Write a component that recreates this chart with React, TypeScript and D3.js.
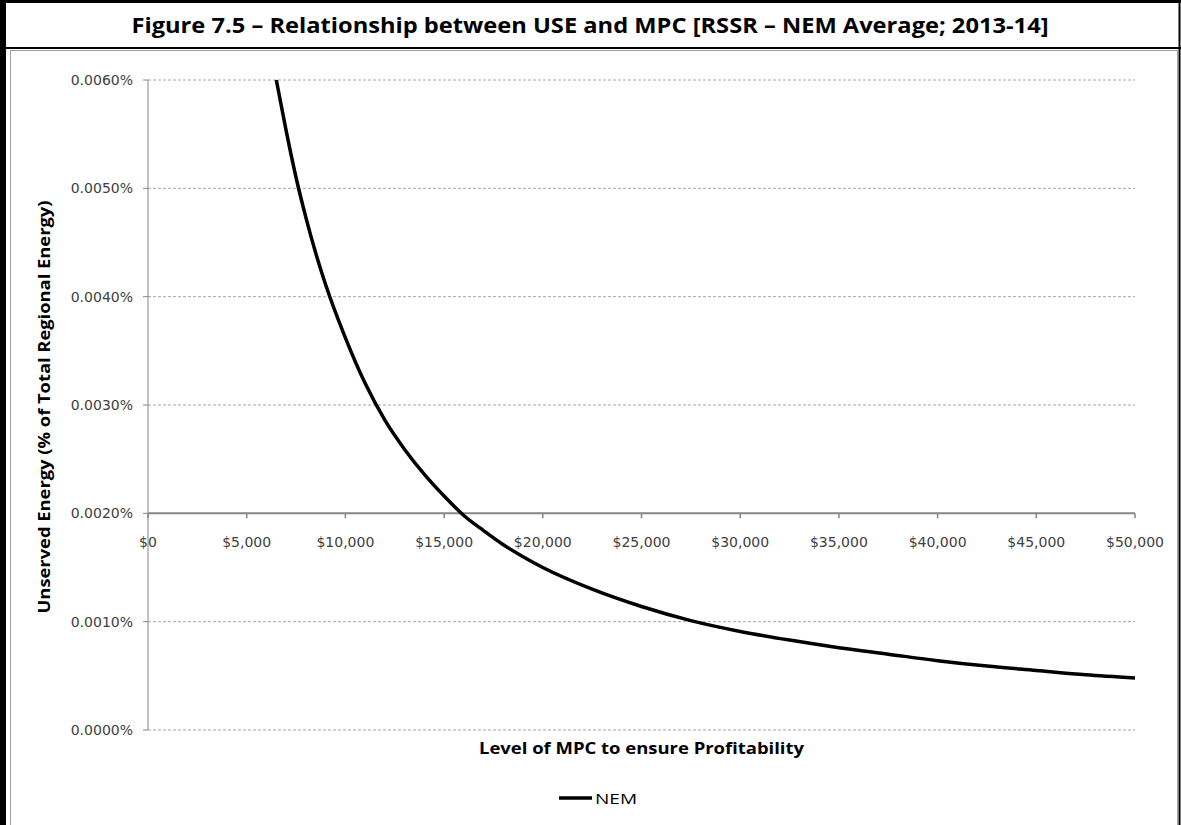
import React from 'react';
import * as d3 from 'd3';

// MPC level ($/MWh) and unserved energy (% of total regional energy)
const mpcLevels = [
    6500, 7000, 7500, 8000, 8500, 9000, 10000, 11000, 12000, 13000, 14000, 15000,
    16000, 17000, 18000, 19000, 20000, 22500, 25000, 27500, 30000, 32500, 35000,
    37500, 40000, 42500, 45000, 47500, 50000,
];
const nemUse = [
    0.0060, 0.00553, 0.0051, 0.00473, 0.0044, 0.00411, 0.00362, 0.0032, 0.00286, 0.00259, 0.00236, 0.00216,
    0.00198, 0.00184, 0.00171, 0.0016, 0.0015, 0.0013, 0.00114, 0.00101, 0.00091, 0.00083, 0.00076,
    0.0007, 0.00064, 0.00059, 0.00055, 0.00051, 0.00048,
];
const xTicks = [0, 5000, 10000, 15000, 20000, 25000, 30000, 35000, 40000, 45000, 50000];
const yTicks = [0, 0.001, 0.002, 0.003, 0.004, 0.005, 0.006];

const W = 1181;
const H = 825;
const left = 148;
const right = 1135;
const top = 80;
const bottom = 730;
const axisAt = 0.002; // x axis crosses here

const tickFont = '"DejaVu Sans", sans-serif';
const titleFont = '"Open Sans", sans-serif';

const App: React.FC = () => {
    const x = d3.scaleLinear().domain([0, 50000]).range([left, right]);
    const y = d3.scaleLinear().domain([0, 0.006]).range([bottom, top]);

    const points = mpcLevels.map((m, i) => [m, nemUse[i]] as [number, number]);
    const line = d3.line<[number, number]>()
        .x(d => x(d[0]))
        .y(d => y(d[1]))
        .curve(d3.curveMonotoneX);

    const fmtX = (v: number) => '$' + d3.format(',')(v);
    const fmtY = (v: number) => d3.format('.4f')(v) + '%';
    const yAxis = y(axisAt);

    return (
        <div style={{ position: 'fixed', left: 0, top: 0 }}>
            <svg width={W} height={H} style={{ display: 'block', background: '#fff' }}>
                {/* frame */}
                <rect x={1.5} y={1.5} width={W + 10} height={H + 10} fill="none" stroke="#000" strokeWidth={3} />
                <line x1={4.5} x2={4.5} y1={0} y2={H} stroke="#000" strokeWidth={3} />
                <line x1={0} x2={W} y1={48} y2={48} stroke="#000" strokeWidth={2} />
                <line x1={1179.5} x2={1179.5} y1={0} y2={H} stroke="#000" strokeWidth={2} />
                <rect x={10.5} y={50.5} width={1167} height={H} fill="none" stroke="#a0a0a0" strokeWidth={1} />

                <text x={590} y={33} textAnchor="middle" fontFamily={titleFont} fontWeight="bold"
                    fontSize={22} textLength={917} lengthAdjust="spacingAndGlyphs" fill="#000">
                    Figure 7.5 – Relationship between USE and MPC [RSSR – NEM Average; 2013-14]
                </text>

                {/* gridlines */}
                {yTicks.filter(t => t !== axisAt).map(t => (
                    <line key={'g' + t} x1={left} x2={right} y1={y(t)} y2={y(t)}
                        stroke="#a6a6a6" strokeWidth={1} strokeDasharray="3,2" />
                ))}

                {/* y axis */}
                <line x1={left} x2={left} y1={top} y2={bottom} stroke="#868686" strokeWidth={1} />
                {yTicks.map(t => (
                    <g key={'y' + t}>
                        <line x1={left - 5} x2={left} y1={y(t)} y2={y(t)} stroke="#868686" strokeWidth={1} />
                        <text x={133} y={y(t)} dy="0.35em" textAnchor="end" fontFamily={tickFont}
                            fontSize={14} fill="#404040">{fmtY(t)}</text>
                    </g>
                ))}

                {/* x axis */}
                <line x1={left} x2={right} y1={yAxis} y2={yAxis} stroke="#868686" strokeWidth={2} />
                {xTicks.map(t => (
                    <g key={'x' + t}>
                        <line x1={x(t)} x2={x(t)} y1={yAxis} y2={yAxis + 5} stroke="#868686" strokeWidth={1.5} />
                        <text x={x(t)} y={yAxis + 29} dy="0.35em" textAnchor="middle" fontFamily={tickFont}
                            fontSize={14} fill="#404040">{fmtX(t)}</text>
                    </g>
                ))}

                {/* series */}
                <path d={line(points) || ''} fill="none" stroke="#000" strokeWidth={3.5} />

                {/* axis titles */}
                <text transform={`translate(50, ${(top + bottom) / 2 + 2}) rotate(-90)`} textAnchor="middle"
                    fontFamily={titleFont} fontWeight="bold" fontSize={16} textLength={413}
                    lengthAdjust="spacingAndGlyphs" fill="#000">
                    Unserved Energy (% of Total Regional Energy)
                </text>
                <text x={641.5} y={754} textAnchor="middle" fontFamily={titleFont} fontWeight="bold"
                    fontSize={16} textLength={325} lengthAdjust="spacingAndGlyphs" fill="#000">
                    Level of MPC to ensure Profitability
                </text>

                {/* legend */}
                <line x1={559} x2={592} y1={798} y2={798} stroke="#000" strokeWidth={3.5} />
                <text x={595} y={804} fontFamily={titleFont} fontSize={15} textLength={42}
                    lengthAdjust="spacingAndGlyphs" fill="#000">NEM</text>
            </svg>
        </div>
    );
};

export default App;
